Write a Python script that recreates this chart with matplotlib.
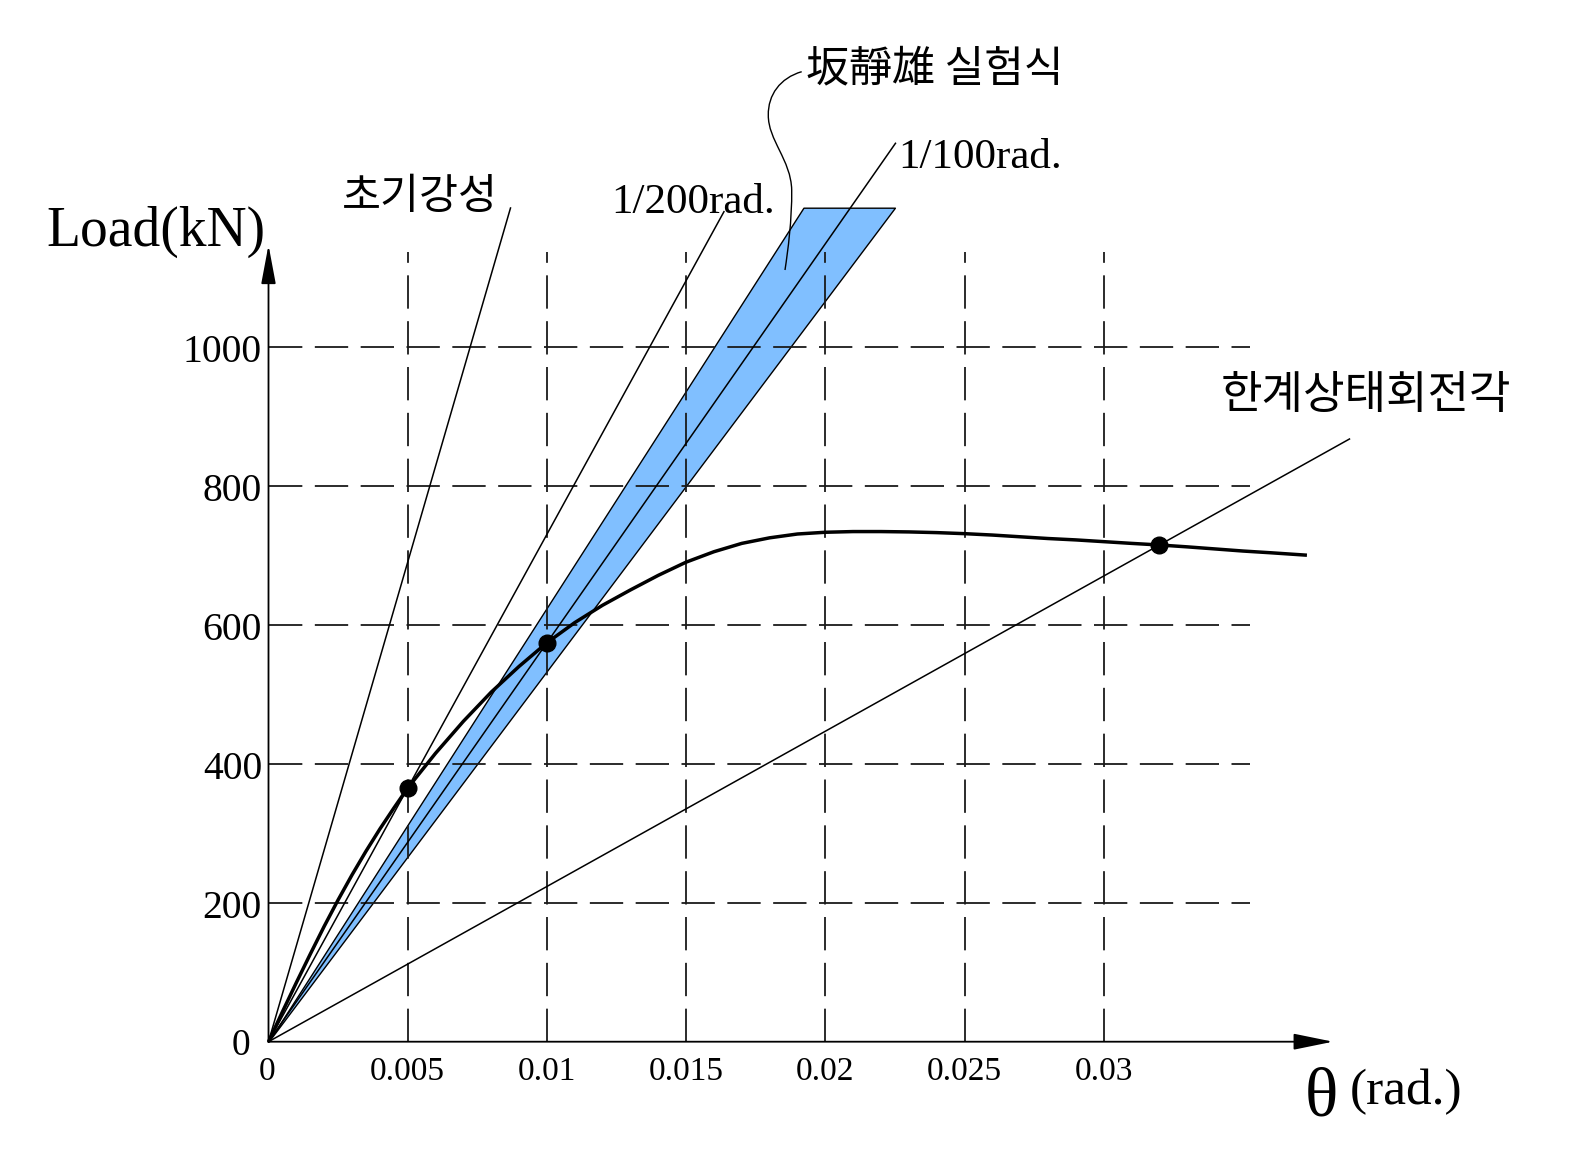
import matplotlib
matplotlib.use("Agg")
import matplotlib.pyplot as plt
from matplotlib.path import Path
from matplotlib.patches import PathPatch
import numpy as np

plt.rcParams['lines.scale_dashes'] = False

# ---------------- data ----------------
theta = [0, 0.0005, 0.001, 0.0015, 0.002, 0.0025, 0.003, 0.0035, 0.004, 0.0045,
         0.005, 0.006, 0.007, 0.008, 0.009, 0.010, 0.011, 0.012, 0.013, 0.014,
         0.015, 0.016, 0.017, 0.018, 0.019, 0.020, 0.021, 0.022, 0.023, 0.024,
         0.025, 0.026, 0.027, 0.028, 0.029, 0.030, 0.031, 0.032, 0.033, 0.034,
         0.035, 0.036, 0.0373]
load = [0, 43, 85, 126, 166, 204, 240, 274, 306, 336,
        365, 415, 461, 503, 540, 574, 603, 628, 650, 671,
        690, 705, 717, 725, 730.5, 733, 734, 734, 733.5, 732.5,
        731, 729, 726.5, 724, 722, 719.5, 717, 714.7, 712, 709,
        706, 703.5, 700]

mark_theta = [0.005, 0.010, 0.032]
mark_load = [365, 574, 714.7]

k_initial = 138000          # 초기강성 (kN/rad)
band_k = [62450, 53330]     # 坂靜雄 실험식 range (kN/rad)
band_top = 1200

x_ticks = [0, 0.005, 0.010, 0.015, 0.020, 0.025, 0.030]
x_tick_labels = ["0", "0.005", "0.01", "0.015", "0.02", "0.025", "0.03"]
y_ticks = [0, 200, 400, 600, 800, 1000]
y_tick_labels = ["0", "200", "400", "600", "800", "1000"]

# ---------------- layout helpers (pixel -> data) ----------------
W, H = 1578, 1162
OX, OY = 268.5, 1041.7
SX = 0.005 / 139.2
SY = 200 / 139.0


def dx(px):
    return (px - OX) * SX


def dy(py):
    return (OY - py) * SY


fig = plt.figure(figsize=(W / 100, H / 100), dpi=100)
ax = fig.add_axes([0, 0, 1, 1])
ax.set_xlim(dx(0), dx(W))
ax.set_ylim(dy(H), dy(0))
ax.axis('off')

SERIF = ['Liberation Serif', 'DejaVu Serif']
KR = ['Noto Sans CJK KR', 'DejaVu Sans']

# ---------------- band ----------------
ax.fill_betweenx([0, band_top], [0, band_top / band_k[0]], [0, band_top / band_k[1]],
                 facecolor='#80bfff', edgecolor='black', linewidth=1.0, zorder=1)

# ---------------- grid ----------------
grid_xmax = dx(1250)
grid_ymax = dy(251.7)
for yv in y_ticks[1:]:
    ax.plot([0, grid_xmax], [yv, yv], color='#1a1a1a', lw=1.3,
            dashes=(24, 9), zorder=2)
for xv in x_ticks[1:]:
    ax.plot([xv, xv], [0, grid_ymax], color='#1a1a1a', lw=1.3,
            dashes=(24, 9), zorder=2)

# ---------------- reference lines ----------------
# initial stiffness
y_end0 = dy(208)
ax.plot([0, y_end0 / k_initial], [0, y_end0], color='black', lw=1.1, zorder=3)
# secant lines through the marked points
sec_ends = [dy(211.7), dy(143.3), dy(439)]
for (t, p), ye in zip(zip(mark_theta, mark_load), sec_ends):
    k = p / t
    ax.plot([0, ye / k], [0, ye], color='black', lw=1.1, zorder=3)

# ---------------- main curve ----------------
ax.plot(theta, load, color='black', lw=2.5, zorder=4, solid_capstyle='butt')
ax.plot(mark_theta, mark_load, 'o', color='black', markersize=12, zorder=5)

# ---------------- axes with arrows ----------------
ax.annotate('', xy=(0, dy(245)), xytext=(0, 0),
            arrowprops=dict(arrowstyle='-|>,head_length=2.4,head_width=0.45',
                            lw=1.3, color='black', mutation_scale=10,
                            shrinkA=0, shrinkB=0), zorder=6)
ax.annotate('', xy=(dx(1333), 0), xytext=(0, 0),
            arrowprops=dict(arrowstyle='-|>,head_length=2.45,head_width=0.5',
                            lw=1.3, color='black', mutation_scale=10,
                            shrinkA=0, shrinkB=0), zorder=6)

# ---------------- tick labels ----------------
for yv, lab in zip(y_ticks, y_tick_labels):
    if yv == 0:
        ax.text(dx(250), dy(1054.7), lab, ha='right', va='baseline',
                fontsize=27, family=SERIF)
    else:
        py = OY - yv / SY
        ax.text(dx(262), dy(py + 15.5), lab, ha='right', va='baseline',
                fontsize=28.5, family=SERIF)
for xv, lab in zip(x_ticks, x_tick_labels):
    ax.text(xv - 0.00005 if xv == 0 else xv, dy(1080), lab, ha='center',
            va='baseline', fontsize=24, family=SERIF)

# ---------------- axis titles ----------------
ax.text(dx(46), dy(246), "Load(kN)", ha='left', va='baseline',
        fontsize=40, family=SERIF)
ax.text(dx(1305), dy(1116), "θ", ha='left', va='baseline',
        fontsize=50, family=SERIF)
ax.text(dx(1350), dy(1104), "(rad.)", ha='left', va='baseline',
        fontsize=37, family=SERIF)

# ---------------- annotations ----------------
ax.text(dx(342), dy(197), "초기강성", ha='left', va='center',
        fontsize=30.5, family=KR)
ax.text(dx(611), dy(213), "1/200rad.", ha='left', va='baseline',
        fontsize=31, family=SERIF)
ax.text(dx(898), dy(168), "1/100rad.", ha='left', va='baseline',
        fontsize=31, family=SERIF)
ax.text(dx(806), dy(69), "坂靜雄 실험식", ha='left', va='center',
        fontsize=31, family=KR)
ax.text(dx(1221), dy(395), "한계상태회전각", ha='left', va='center',
        fontsize=32.5, family=KR)

# leader for 坂靜雄 실험식
lead_px = [(801.7, 71.7), (780, 78), (768, 95), (768.3, 115),
           (768, 140), (791, 160), (791.7, 190),
           (792, 220), (788, 250), (785, 270)]
codes = [Path.MOVETO] + [Path.CURVE4] * 9
verts = [(dx(a), dy(b)) for a, b in lead_px]
ax.add_patch(PathPatch(Path(verts, codes), facecolor='none',
                       edgecolor='black', lw=1.0, zorder=6))

fig.savefig("out.png", dpi=100)
